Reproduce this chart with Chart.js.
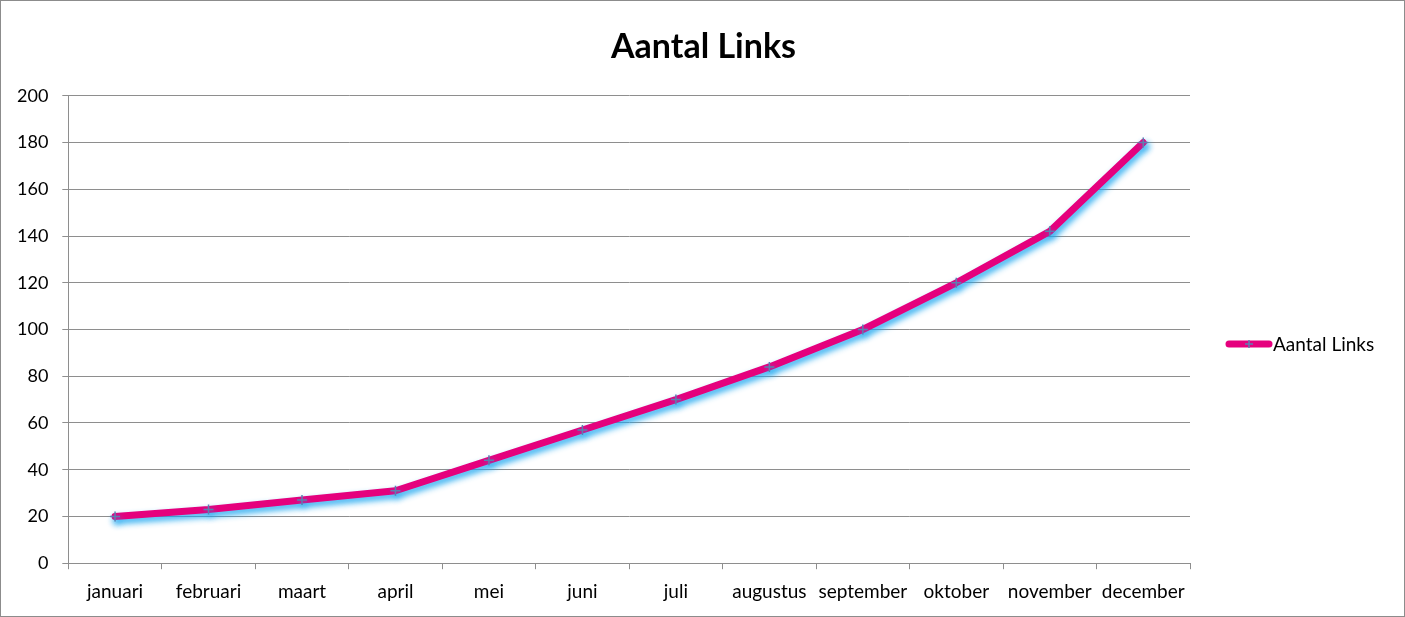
<!DOCTYPE html>
<html>
<head>
<meta charset="utf-8">
<script src="https://cdn.jsdelivr.net/npm/chart.js@4.4.0/dist/chart.umd.min.js"></script>
<style>
  body { margin: 0; background: #fff; }
  #wrap { width: 1405px; height: 617px; box-sizing: border-box; border: 1px solid #8c8c8c; }
</style>
</head>
<body>
<div id="wrap"><canvas id="chart" width="1403" height="615"></canvas></div>
<script>
// Data
const months = ['januari', 'februari', 'maart', 'april', 'mei', 'juni', 'juli', 'augustus', 'september', 'oktober', 'november', 'december'];
const aantalLinks = [20, 23, 27, 31, 44, 57, 70, 84, 100, 120, 142, 180];
const yTicks = [0, 20, 40, 60, 80, 100, 120, 140, 160, 180, 200];
const seriesName = 'Aantal Links';

const pink = '#e5007d';
const crossBlue = '#5b7fb2';
const gridGray = '#8e8e8e';
const fontFam = 'Lato, "Open Sans", sans-serif';

// blue glow under the line
const glow = {
  id: 'glow',
  beforeDatasetsDraw(chart) {
    const ctx = chart.ctx;
    ctx.save();
    ctx.shadowColor = 'rgba(25,165,240,0.9)';
    ctx.shadowBlur = 6;
    ctx.shadowOffsetX = 2;
    ctx.shadowOffsetY = 4;
  },
  afterDatasetsDraw(chart) {
    chart.ctx.restore();
  }
};

// legend on the right: a layout box of fixed width, so the title stays centred on the canvas
const sideLegend = {
  id: 'sideLegend',
  beforeInit(chart) {
    const box = {
      position: 'right',
      weight: 1000,
      fullSize: false,
      options: {},
      isHorizontal: () => false,
      update(maxWidth, maxHeight) {
        this.width = 214;
        this.height = maxHeight;
      },
      draw() {
        const ctx = chart.ctx;
        const x0 = this.left + 36, x1 = x0 + 46, y = 343;
        ctx.save();
        ctx.strokeStyle = pink;
        ctx.lineWidth = 7;
        ctx.lineCap = 'round';
        ctx.beginPath();
        ctx.moveTo(x0 + 3, y);
        ctx.lineTo(x1 - 3, y);
        ctx.stroke();
        // cross marker
        const cx = (x0 + x1) / 2;
        ctx.strokeStyle = crossBlue;
        ctx.lineWidth = 1.5;
        ctx.lineCap = 'butt';
        ctx.beginPath();
        ctx.moveTo(cx - 4, y); ctx.lineTo(cx + 4, y);
        ctx.moveTo(cx, y - 4); ctx.lineTo(cx, y + 4);
        ctx.stroke();
        ctx.fillStyle = '#000';
        ctx.font = '19px ' + fontFam;
        ctx.textBaseline = 'middle';
        ctx.textAlign = 'left';
        ctx.fillText(seriesName, x1 + 1, y + 1);
        ctx.restore();
      }
    };
    Chart.layouts.addBox(chart, box);
  }
};

new Chart(document.getElementById('chart'), {
  type: 'line',
  data: {
    labels: months,
    datasets: [{
      label: seriesName,
      data: aantalLinks,
      borderColor: pink,
      backgroundColor: pink,
      borderWidth: 7,
      borderCapStyle: 'round',
      borderJoinStyle: 'round',
      tension: 0,
      pointStyle: 'cross',
      pointRadius: 5,
      pointBorderWidth: 1.5,
      pointBorderColor: crossBlue,
      pointHoverRadius: 5
    }]
  },
  options: {
    responsive: false,
    animation: false,
    layout: { padding: { left: 2, right: 0, top: 0, bottom: 2 } },
    plugins: {
      title: {
        display: true,
        text: seriesName,
        color: '#000',
        font: { family: fontFam, size: 34, weight: 'bold' },
        padding: { top: 26, bottom: 28 }
      },
      legend: { display: false },
      tooltip: { enabled: false }
    },
    scales: {
      x: {
        offset: true,
        grid: { offset: true, drawOnChartArea: false, color: gridGray, tickLength: 6 },
        border: { color: gridGray },
        ticks: { color: '#000', font: { family: fontFam, size: 19 }, padding: 11, maxRotation: 0 }
      },
      y: {
        min: 0,
        max: 200,
        afterBuildTicks: axis => { axis.ticks = yTicks.map(v => ({ value: v })); },
        grid: { color: gridGray, tickLength: 6 },
        border: { color: gridGray },
        ticks: { color: '#000', font: { family: fontFam, size: 18 }, padding: 14 }
      }
    }
  },
  plugins: [glow, sideLegend]
});
</script>
</body>
</html>
